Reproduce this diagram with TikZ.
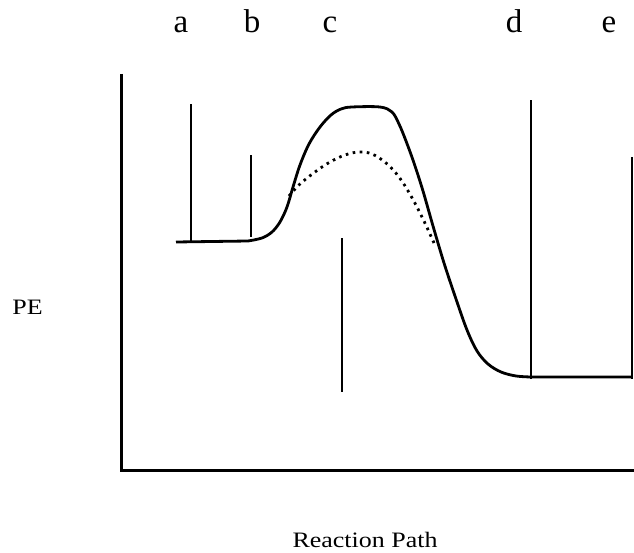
\documentclass[tikz,border=0pt]{standalone}
\usepackage{fontspec}
\setmainfont{Liberation Serif}
\newfontfamily\smallserif[FakeStretch=1.18]{Liberation Serif}
\begin{document}
\begin{tikzpicture}[x=1pt,y=-1pt,
  ln/.style={line width=2.8pt, line cap=rect},
  curve/.style={line width=2.8pt, line join=round},
  dots/.style={line width=2.8pt, dash pattern=on 2.6pt off 4.5pt},
  toplbl/.style={anchor=base, inner sep=0pt, font=\fontsize{33}{36}\selectfont},
  axlbl/.style={anchor=base, inner sep=0pt, font=\smallserif\fontsize{22}{24}\selectfont}]
\useasboundingbox (0,0) rectangle (634,553);
% labels
\node[toplbl] (la) at (181,33) {a};
\node[toplbl] (lb) at (252,33) {b};
\node[toplbl] (lc) at (330,33) {c};
\node[toplbl] (ld) at (514,33) {d};
\node[toplbl] (le) at (609,33) {e};
\node[axlbl] (pe) at (27.5,314) {PE};
\node[axlbl] (rp) at (365,547) {Reaction Path};
% axes
\coordinate (ytop) at (121,74);
\coordinate (origin) at (121,470);
\coordinate (xend) at (634,470);
\draw[line width=3pt] (ytop) -- (origin) -- (xend);
% vertical markers
\draw[ln] (191,105) -- (191,240);
\draw[ln] (251,156) -- (251,236);
\draw[ln] (342,239) -- (342,391);
\draw[ln] (531,101) -- (531,378);
\draw[ln] (632,158) -- (632,378);
% solid curve
\draw[curve] (176,242) -- (248,241)
  plot[smooth, tension=0.55] coordinates {(248,241) (262,238) (272,232) (280,222) (287,207) (293,187) (300,165) (309,144) (320,127) (331,115) (341,109) (352,107) (380,107) (392,112) (399,124) (406,141) (414,163) (423,191) (433,226) (444,263) (456,299) (467,330) (477,351) (488,364) (501,372) (516,376) (531,377)}
  -- (632,377);
% dotted curve
\draw[dots] plot[smooth, tension=0.6] coordinates {(289,196) (300,184) (315,172) (330,162) (345,155) (359,152) (372,154) (386,163) (399,177) (411,196) (423,219) (434,243)};
\end{tikzpicture}
\end{document}
